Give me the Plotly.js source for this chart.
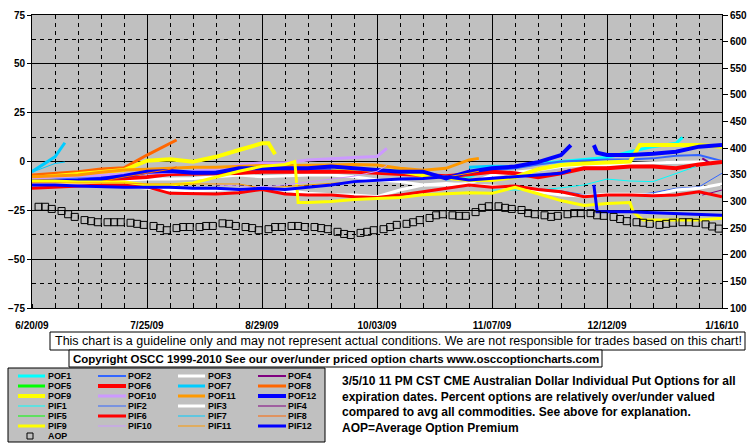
<!DOCTYPE html>
<html><head><meta charset="utf-8">
<script src="https://cdn.plot.ly/plotly-3.0.1.min.js"></script>
<style>html,body{margin:0;padding:0;background:#fff}#chart{width:755px;height:446px}</style>
</head><body><div id="chart"></div>
<script>
// ---------- DATA ----------
const weeks = ['2009-06-20','2009-06-27','2009-07-04','2009-07-11','2009-07-18','2009-07-25','2009-08-01','2009-08-08','2009-08-15','2009-08-22','2009-08-29','2009-09-05','2009-09-12','2009-09-19','2009-09-26','2009-10-03','2009-10-10','2009-10-17','2009-10-24','2009-10-31','2009-11-07','2009-11-14','2009-11-21','2009-11-28','2009-12-05','2009-12-12','2009-12-19','2009-12-26','2010-01-02','2010-01-09','2010-01-16'];
const tickDates = ['2009-06-20','2009-07-25','2009-08-29','2009-10-03','2009-11-07','2009-12-12','2010-01-16'];
const tickLabels = ['6/20/09','7/25/09','8/29/09','10/03/09','11/07/09','12/12/09','1/16/10'];
const N = null;
const POF1  = [N,N,N,N,N,N,N,N,N,N,N,N,N,N,N,N,N,N,-9,-8,-3,-3,-1,0,0.8,2,5,7.6,9.3,N,N];
const POF2  = [-9,-9,-8.5,-8,-7,-6,-5.5,-5,-5,-4.5,-4,-4,-4,-4,-4.5,-5.5,-6,-6.5,-7.5,-6,-4.5,-3.5,-1.5,0,0.5,1,1,1.6,3,3.3,0.3];
const POF3  = [-11.2,-11.2,-10.7,-10.3,-9.5,-9,-9,-8.7,-7.8,-6.9,-7.8,-7.4,-6.9,-6.9,-7.8,-9.5,-10.3,-12,-12,-11.2,-7,-5.5,-4.4,-2.6,-1.8,-1.8,-1,-0.6,-0.3,-0.3,-0.3];
const POF4  = [N,N,N,N,N,N,N,N,N,N,N,N,N,N,N,N,N,N,N,N,N,N,N,N,N,N,N,N,N,N,N];
const POF5  = [N,N,N,N,N,N,N,N,N,N,N,N,N,N,N,N,N,N,N,N,N,N,N,N,N,N,N,N,N,N,N];
const POF6  = [-9,-10.3,-10,-9.5,-9,-8,-6.4,-6.4,-6.4,-5.9,-5.2,-5.2,-5.2,-4.7,-5.2,-5.7,-6.2,-7,-7.5,-6.5,-5.2,-6,-8,-6,-3.5,-3.5,-2.6,-2.6,-3.5,-1.5,-0.3];
const POF7  = [-5.2,2.4,N,N,N,N,N,N,N,N,N,N,N,N,N,N,N,N,N,-3,-2.4,-2.6,N,N,N,N,N,N,N,N,N];
const POF8  = [-6.9,-6,-5.2,-3.9,-3.2,3.3,9.3,N,N,N,N,N,N,N,N,N,N,N,N,N,N,N,N,N,N,N,N,N,N,N,N];
const POF9  = [-8.5,-7.4,-6.4,-5.2,-4.4,0.4,1.1,-0.1,2.4,5.9,9.3,N,N,-3,-3.5,-4,-5,-7,-8.5,-9.5,-9.5,-8,-4,-1.8,-1,-0.5,0,8.4,8.4,8.4,7.6];
const POF10 = [-8.5,-8,-7.5,-6.9,-6.4,-6,-5.5,-5,-4,-1.8,-0.6,-0.6,0.8,1.6,2.1,2.6,N,N,N,N,N,N,N,N,N,N,N,N,N,N,N];
const POF11 = [-7.8,-7.4,-6.9,-5.5,-4.4,-4,-3.5,-3,-3,-2.5,-2,-2,-2,-1.8,-1.5,-1.8,-3.5,-4.5,-3.5,0.8,N,N,N,N,N,N,N,N,N,N,N];
const POF12 = [-10.3,-10.3,-9.8,-9,-7.4,-5.2,-4.9,-5.7,-5.7,-3.5,-3.5,-3.5,-3.5,-2.6,-3.5,-4.7,-5.2,-5.2,-8.7,-5.2,-3.5,-2.6,-0.3,3.3,N,3.3,3.3,4,5,7.6,8.4];
const PIF1  = [N,N,N,N,N,N,N,N,N,N,N,N,N,N,N,N,N,N,N,N,-14.6,-14.6,-14.6,-13.5,-12,-9,-10,-10.3,-6,N,N];
const PIF2  = [N,N,N,N,N,N,N,N,N,N,N,N,N,N,N,N,N,N,N,N,-13,-13,-14,-15,-17,-17,-17.5,-16,-13.7,-13,-6];
const PIF3  = [-11.5,-11.5,-11.5,-12,-12.5,-13.7,-14.6,-15,-14.6,-14.3,-13.2,-14.6,-16.3,-17,-17.2,-18,-14.6,-12,-11.2,-12,-12.5,-13.2,-15.5,-17.2,-17.7,-16.8,-16.8,-17.2,-14.6,-13.7,-11.5];
const PIF4  = [N,N,N,N,N,N,N,N,N,N,N,N,N,N,N,N,N,N,N,N,N,N,N,N,N,N,N,N,N,N,-14.6];
const PIF5  = [N,N,N,N,N,N,N,N,N,N,N,N,N,N,N,N,N,N,N,N,N,N,N,N,N,N,N,N,N,N,N];
const PIF6  = [-13.7,-13.2,-12.5,-12,-12,-13,-16.3,-16.6,-16.6,-16,-14.3,-16.6,-17.2,-17.2,-18,-18.4,-17.2,-15.5,-13.7,-12,-13.2,-12.5,-14.3,-15.5,-18,-17.2,-17.2,-17.5,-17.2,-15.5,-18];
const PIF7  = [-5.5,-1,N,N,N,N,N,N,N,N,N,N,N,N,N,N,N,N,N,N,N,N,N,N,N,N,N,N,N,N,N];
const PIF8  = [-10.5,-10.5,-10.5,-10.3,-8,-6,-4,N,N,N,N,N,N,N,N,N,N,N,N,N,N,N,N,N,N,N,N,N,N,N,N];
const PIF9  = [-10,-10,-10.5,-10.5,-10.5,-12,-12,-11,-8,-5,-2.5,-1.5,-21,-20.5,-19.5,-18.8,-18.4,-17,-16.5,-16,-16.3,-13.2,-16.5,-20,-22.5,-21.5,-21,-30,-30,-30,-29.1];
const PIF10 = [N,N,N,N,N,N,N,N,-12,-12.5,-13,-12,-10.5,-9,-7.5,-5,N,N,N,N,N,N,N,N,N,N,N,N,N,N,N];
const PIF11 = [-11,-11,-11,-11,-11,-11.5,-11.5,-11.5,-11.5,-11.5,-13.7,-12.9,-12,-11,-10.5,-9.5,-9,-8.5,-8,-6,N,N,N,N,N,N,N,N,N,N,N];
const PIF12 = [-12,-12,-12.5,-12.9,-13.2,-13.2,-13.2,-13.7,-13.7,-14.3,-13.7,-14.3,-13.2,-12,-10.3,-9.5,-9,-8.7,-7.8,-9.5,-8.7,-7.8,-6.9,-6,N,-25.7,-25.7,-26.2,-26.6,-27,-27.5];
// mid-week points (series start / end)
const extraPoints = {
  POF1: [['2010-01-04',12.4]],
  POF4: [['2010-01-10',1.6],['2010-01-13',-1.5]],
  POF7: [['2009-06-30',9.6]],
  POF8: [['2009-08-03',11]],
  POF9: [['2009-08-31',9.3],['2009-09-02',3.7],['2009-12-22',8.4]],
  POF10: [['2009-10-06',6.7]],
  POF11: [['2009-11-03',1.6]],
  POF12: [['2009-12-01',8.4],['2009-12-08',8.4],['2009-12-09',4.5]],
  PIF1: [['2010-01-08',-2.6]],
  PIF4: [['2010-01-10',-17.2]],
  PIF7: [['2009-06-30',-0.3]],
  PIF8: [['2009-08-03',-2.7]],
  PIF9: [['2009-09-08',0],['2009-09-09',-21],['2009-12-20',-26],['2009-12-23',-30]],
  PIF10: [['2009-10-06',-2]],
  PIF11: [['2009-11-03',-5]],
  PIF12: [['2009-12-01',-4.4],['2009-12-08',-12],['2009-12-09',-25.7]]
};
const aopDates = ['2009-06-22','2009-06-24','2009-06-26','2009-06-29','2009-07-01','2009-07-03','2009-07-06','2009-07-08','2009-07-10','2009-07-13','2009-07-15','2009-07-17','2009-07-20','2009-07-22','2009-07-24','2009-07-27','2009-07-29','2009-07-31','2009-08-03','2009-08-05','2009-08-07','2009-08-10','2009-08-12','2009-08-14','2009-08-17','2009-08-19','2009-08-21','2009-08-24','2009-08-26','2009-08-28','2009-08-31','2009-09-02','2009-09-04','2009-09-07','2009-09-09','2009-09-11','2009-09-14','2009-09-16','2009-09-18','2009-09-21','2009-09-23','2009-09-25','2009-09-28','2009-09-30','2009-10-02','2009-10-05','2009-10-07','2009-10-09','2009-10-12','2009-10-14','2009-10-16','2009-10-19','2009-10-21','2009-10-23','2009-10-26','2009-10-28','2009-10-30','2009-11-02','2009-11-04','2009-11-06','2009-11-09','2009-11-11','2009-11-13','2009-11-16','2009-11-18','2009-11-20','2009-11-23','2009-11-25','2009-11-27','2009-11-30','2009-12-02','2009-12-04','2009-12-07','2009-12-09','2009-12-11','2009-12-14','2009-12-16','2009-12-18','2009-12-21','2009-12-23','2009-12-25','2009-12-28','2009-12-30','2010-01-01','2010-01-04','2010-01-06','2010-01-08','2010-01-11','2010-01-13','2010-01-15'];
const aopValues = [290,290,286,282,276,271,265,263,261,261,261,261,260,258,256,254,250,246,250,252,252,252,254,254,259,258,254,252,250,246,248,252,252,254,254,252,252,250,248,243,239,237,241,243,246,248,252,256,258,261,265,269,274,276,274,273,273,280,288,291,291,288,286,284,278,276,274,271,273,276,278,278,278,274,273,271,267,263,261,260,258,256,258,260,261,261,260,257,253,249];
const seriesNames = ['POF1','POF2','POF3','POF4','POF5','POF6','POF7','POF8','POF9','POF10','POF11','POF12','PIF1','PIF2','PIF3','PIF4','PIF5','PIF6','PIF7','PIF8','PIF9','PIF10','PIF11','PIF12'];
const seriesValues = {POF1,POF2,POF3,POF4,POF5,POF6,POF7,POF8,POF9,POF10,POF11,POF12,PIF1,PIF2,PIF3,PIF4,PIF5,PIF6,PIF7,PIF8,PIF9,PIF10,PIF11,PIF12};
const disclaimer = 'This chart is a guideline only and may not represent actual conditions. We are not responsible for trades based on this chart!';
const copyright = 'Copyright OSCC 1999-2010 See our over/under priced option charts www.osccoptioncharts.com';
const noteLines = ['3/5/10 11 PM CST CME Australian Dollar Individual Put Options for all','expiration dates. Percent options are relatively over/under valued','compared to avg all commodities. See above for explanation.','AOP=Average Option Premium'];

// ---------- STYLE ----------
const monthColors = ['#00FFFF','#3366FF','#FFFFFF','#800080','#00FF00','#FF0000','#00CCFF','#FF6600','#FFFF00','#CC99FF','#FF9900','#0000FF'];
const pofWidths = [3,2,3,2,3,4,3,3,4,3,3,4];
const pifWidths = [1,1,3,1,1,3,1,1,3,1,1,3];
const FONT = 'Liberation Sans, Arial, sans-serif';

const L = 32, R = 722, T = 15, B = 308;
const X = px => (px - L) / (R - L);
const Y = py => (B - py) / (B - T);

const traces = [];
seriesNames.forEach((name, i) => {
  const vals = seriesValues[name];
  const pts = weeks.map((d, k) => [d, vals[k]]);
  (extraPoints[name] || []).forEach(p => pts.push(p));
  pts.sort((a, b) => a[0] < b[0] ? -1 : a[0] > b[0] ? 1 : 0);
  const m = i % 12;
  traces.push({
    type: 'scatter', mode: 'lines', name: name,
    x: pts.map(p => p[0]), y: pts.map(p => p[1]),
    line: {color: monthColors[m], width: i < 12 ? pofWidths[m] : pifWidths[m]},
    hoverinfo: 'skip'
  });
});
traces.push({
  type: 'scatter', mode: 'markers', name: 'AOP', x: aopDates, y: aopValues, yaxis: 'y2',
  marker: {symbol: 'square-open', size: 7, color: 'black', line: {width: 1, color: 'black'}},
  hoverinfo: 'skip'
});

const shapes = [];
const annotations = [];
// boxes
shapes.push({type:'rect', xref:'paper', yref:'paper', x0:X(50), x1:X(745), y0:Y(350), y1:Y(332), line:{color:'black', width:1}, fillcolor:'white'});
shapes.push({type:'rect', xref:'paper', yref:'paper', x0:X(69), x1:X(602), y0:Y(367), y1:Y(350), line:{color:'black', width:1}, fillcolor:'white'});
shapes.push({type:'rect', xref:'paper', yref:'paper', x0:X(8), x1:X(325), y0:Y(442), y1:Y(368), line:{color:'black', width:1}, fillcolor:'#C0C0C0'});
annotations.push({xref:'paper', yref:'paper', x:X(398), y:Y(341), text:disclaimer, showarrow:false, xanchor:'center', yanchor:'middle', borderpad:0, font:{family:FONT, size:12.5, color:'black'}});
annotations.push({xref:'paper', yref:'paper', x:X(336), y:Y(358.5), text:copyright, showarrow:false, xanchor:'center', yanchor:'middle', borderpad:0, font:{family:FONT, size:11.5, color:'black', weight:'bold'}});
// legend: line samples as shapes, labels as texts (row pitch 10px)
const colLine0 = [18, 98, 178, 258], colLine1 = [45, 126, 205, 286], colText = [47, 127, 207, 287];
const rowY = [376, 386, 396, 406, 416, 426, 436];
const legendFont = {family:FONT, size:8.9, color:'black', weight:'bold'};
seriesNames.forEach((name, i) => {
  const r = Math.floor(i / 4), c = i % 4, m = i % 12;
  shapes.push({type:'line', xref:'paper', yref:'paper', x0:X(colLine0[c]), x1:X(colLine1[c]), y0:Y(rowY[r]), y1:Y(rowY[r]),
    line:{color: monthColors[m], width: i < 12 ? pofWidths[m] : pifWidths[m]}});
  annotations.push({xref:'paper', yref:'paper', x:X(colText[c]), y:Y(rowY[r]), text:name, showarrow:false, xanchor:'left', yanchor:'middle', borderpad:0, font:legendFont});
});
shapes.push({type:'rect', xref:'paper', yref:'paper', x0:X(27), x1:X(33), y0:Y(439), y1:Y(433), line:{color:'black', width:1}, fillcolor:'rgba(0,0,0,0)'});
annotations.push({xref:'paper', yref:'paper', x:X(47), y:Y(rowY[6]), text:'AOP', showarrow:false, xanchor:'left', yanchor:'middle', borderpad:0, font:legendFont});
// note text
const noteY = [381, 397, 412, 428];
noteLines.forEach((t, i) => annotations.push({xref:'paper', yref:'paper', x:X(341), y:Y(noteY[i]), text:t, showarrow:false, xanchor:'left', yanchor:'middle', borderpad:0, font:{family:FONT, size:12, color:'black', weight:'bold'}}));

const tickFont = {family: FONT, size: 10, color: 'black', weight: 'bold'};
const DAY = 86400000;
const layout = {
  width: 755, height: 446,
  margin: {l: L, r: 755 - R, t: T, b: 446 - B, pad: 0},
  paper_bgcolor: 'white', plot_bgcolor: '#C0C0C0',
  showlegend: false,
  xaxis: {
    type: 'date', range: ['2009-06-20', '2010-01-16'],
    tickvals: tickDates, ticktext: tickLabels, tickfont: tickFont,
    ticks: '', ticklabelstandoff: 8,
    showgrid: true, gridcolor: 'black', gridwidth: 1,
    minor: {tick0: '2009-06-20', dtick: 7 * DAY, showgrid: true, gridcolor: 'black', griddash: '4px,4px', ticks: 'inside', ticklen: 4, tickcolor: 'black'},
    showline: true, linecolor: 'black', linewidth: 1, mirror: true, zeroline: false, fixedrange: true
  },
  yaxis: {
    range: [-75, 75], tick0: 0, dtick: 25, tickfont: tickFont,
    ticks: 'outside', ticklen: 4, tickcolor: 'black',
    showgrid: true, gridcolor: 'black', gridwidth: 1,
    minor: {tick0: 0, dtick: 12.5, showgrid: true, gridcolor: 'black', griddash: '4px,4px'},
    showline: true, linecolor: 'black', linewidth: 1, mirror: true, zeroline: false, fixedrange: true
  },
  yaxis2: {
    overlaying: 'y', side: 'right', range: [100, 650], tick0: 100, dtick: 50, tickfont: tickFont,
    ticks: 'outside', ticklen: 5, tickcolor: 'black',
    showgrid: false, showline: true, linecolor: 'black', zeroline: false, fixedrange: true
  },
  shapes: shapes,
  annotations: annotations
};
Plotly.newPlot('chart', traces, layout, {staticPlot: true, displayModeBar: false});
</script>
</body></html>
